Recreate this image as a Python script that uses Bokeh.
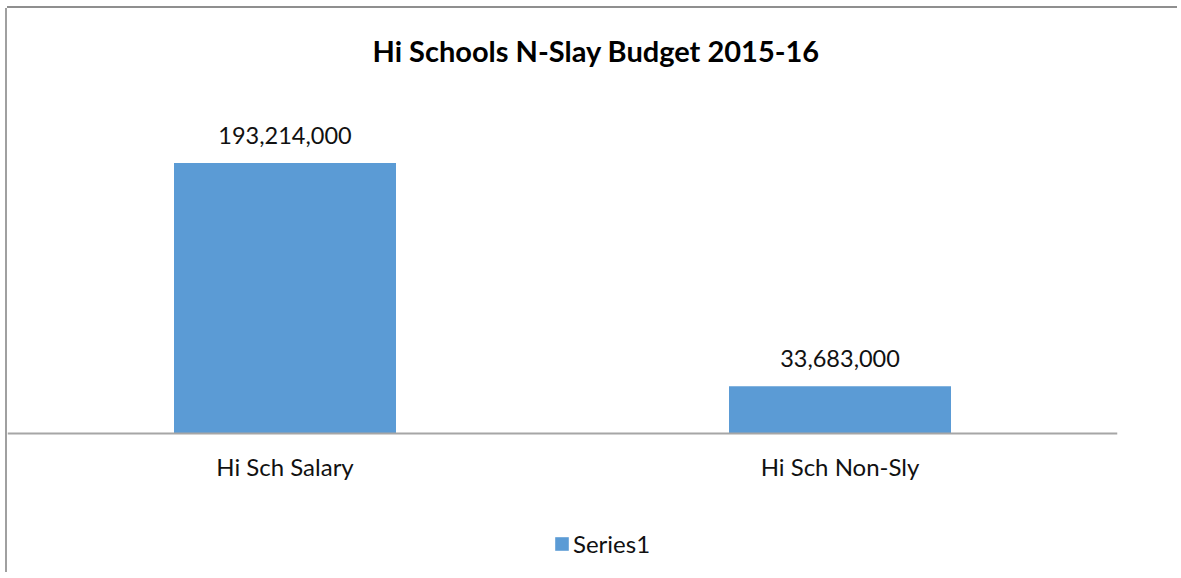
from bokeh.plotting import figure
from bokeh.models import ColumnDataSource, FactorRange, Range1d, Legend, LegendItem, Span
from bokeh.core.properties import value
from bokeh.embed import file_html
from bokeh.resources import INLINE

categories = ["Hi Sch Salary", "Hi Sch Non-Sly"]
values = [193214000, 33683000]
series_name = "Series1"
title_text = "Hi Schools N-Slay Budget 2015-16"

labels = ["{:,}".format(v) for v in values]
src = ColumnDataSource(dict(cat=categories, val=values, lab=labels,
                            base=[0] * len(values)))

FONT = "Lato"
Y_MAX = 250000000
p = figure(
    x_range=FactorRange(*categories),
    y_range=Range1d(-Y_MAX * 139 / 350, Y_MAX),
    width=1170, height=564,
    output_backend="svg", toolbar_location=None,
    min_border_left=0, min_border_right=60,
    min_border_top=75, min_border_bottom=0,
)
p.styles = {"margin-left": "7px", "margin-top": "8px",
            "box-shadow": "0 -2px 0 0 #8f8f8f, -2px 0 0 0 #a0a0a0"}

p.title.text = title_text
p.title.align = "left"
p.title.offset = 365
p.title.text_font = FONT
p.title.text_font_size = "29px"
p.title.text_font_style = "bold"
p.title.text_color = "#000000"
p.title.standoff = 32

bars = p.vbar(x="cat", top="val", width=0.4, source=src,
              fill_color="#5B9BD5", line_color=None)
# value labels above bars
p.text(x="cat", y="val", text="lab", source=src, text_align="center",
       text_baseline="alphabetic", y_offset=-28,
       text_font=value(FONT), text_font_size="23.5px", text_color="#111111")
# category labels below baseline
p.text(x="cat", y="base", text="cat", source=src, text_align="center",
       text_baseline="middle", y_offset=33,
       text_font=value(FONT), text_font_size="24px", text_color="#111111")

# baseline (category axis line)
p.add_layout(Span(location=0, dimension="width", line_color="#a6a6a6", line_width=2))

p.xaxis.visible = False
p.yaxis.visible = False
p.xgrid.visible = False
p.ygrid.visible = False
p.outline_line_color = None
p.background_fill_color = "white"
p.border_fill_color = "white"

legend = Legend(items=[LegendItem(label=series_name, renderers=[bars])],
                location=(546, 14), orientation="horizontal",
                padding=0, margin=0, border_line_color=None,
                background_fill_alpha=0,
                glyph_width=17, glyph_height=17, label_standoff=3,
                label_text_font=FONT, label_text_font_size="24px",
                label_text_color="#111111")
p.add_layout(legend)

open("out.html", "w").write(file_html(p, INLINE))
